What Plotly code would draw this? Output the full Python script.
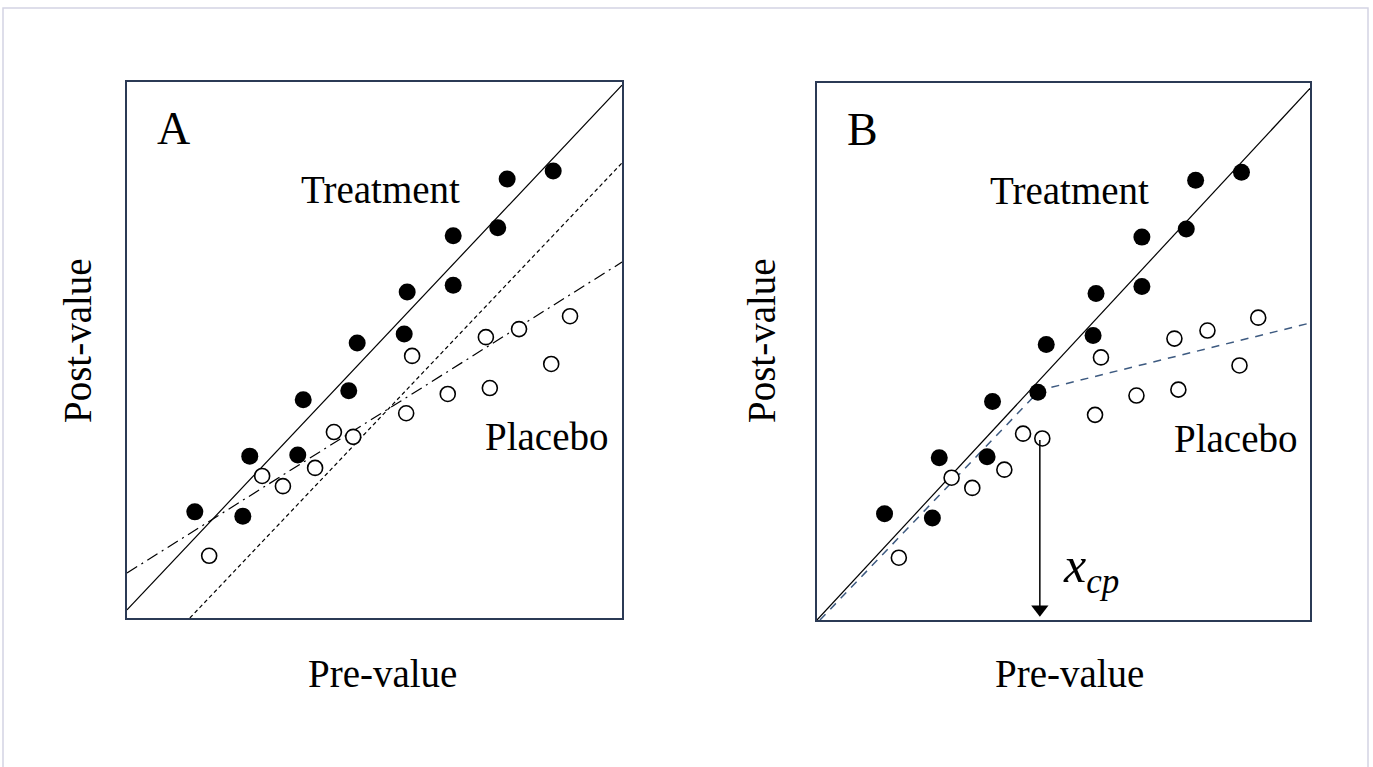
import plotly.graph_objects as go

W, H = 1373, 767

# ---- data (axis units 0..10) ----
treat_x = [1.37, 2.34, 2.48, 3.45, 3.56, 4.48, 4.65, 5.60, 5.66, 6.59, 6.59, 7.49, 7.68, 8.61]
treat_y = [1.98, 1.90, 3.02, 3.04, 4.07, 4.24, 5.13, 5.30, 6.08, 6.21, 7.13, 7.28, 8.19, 8.34]
plac_x = [1.66, 2.73, 3.15, 3.80, 4.18, 4.57, 5.64, 5.76, 6.48, 7.33, 7.25, 7.92, 8.57, 8.95]
plac_y = [1.16, 2.65, 2.46, 2.80, 3.47, 3.38, 3.82, 4.89, 4.18, 4.29, 5.24, 5.39, 4.74, 5.63]

# panel A lines
a_solid_x, a_solid_y = [0, 10], [0.15, 9.94]
a_dash_x, a_dash_y = [1.27, 10], [0, 8.49]
a_dashdot_x, a_dashdot_y = [0, 10], [0.84, 6.64]

# panel B lines
b_solid_x, b_solid_y = [0, 10], [0, 9.9]
b_seg_x, b_seg_y = [0.06, 4.52, 10], [0, 4.28, 5.53]
x_cp = 4.52
x_cp_top = 3.35

FONT = "Liberation Serif"

fig = go.Figure()

def px_x(p):
    return p / W

def px_y(p):
    return 1 - p / H

def add_points(xa, ya):
    fig.add_trace(go.Scatter(x=treat_x, y=treat_y, mode="markers", xaxis=xa, yaxis=ya,
                             marker=dict(size=17, color="black", line=dict(width=0)),
                             showlegend=False, hoverinfo="skip"))
    fig.add_trace(go.Scatter(x=plac_x, y=plac_y, mode="markers", xaxis=xa, yaxis=ya,
                             marker=dict(size=15, color="white", line=dict(width=1.6, color="black")),
                             showlegend=False, hoverinfo="skip"))

# Panel A lines
fig.add_trace(go.Scatter(x=a_solid_x, y=a_solid_y, mode="lines", xaxis="x", yaxis="y",
                         line=dict(color="black", width=1.2), showlegend=False, hoverinfo="skip"))
fig.add_trace(go.Scatter(x=a_dash_x, y=a_dash_y, mode="lines", xaxis="x", yaxis="y",
                         line=dict(color="black", width=1.2, dash="4px,3px"), showlegend=False, hoverinfo="skip"))
fig.add_trace(go.Scatter(x=a_dashdot_x, y=a_dashdot_y, mode="lines", xaxis="x", yaxis="y",
                         line=dict(color="black", width=1.2, dash="12px,5px,2px,5px"), showlegend=False, hoverinfo="skip"))
add_points("x", "y")

# Panel B lines
fig.add_trace(go.Scatter(x=b_solid_x, y=b_solid_y, mode="lines", xaxis="x2", yaxis="y2",
                         line=dict(color="black", width=1.2), showlegend=False, hoverinfo="skip"))
fig.add_trace(go.Scatter(x=b_seg_x, y=b_seg_y, mode="lines", xaxis="x2", yaxis="y2",
                         line=dict(color="#3d5a80", width=1.5, dash="8px,7px"), showlegend=False, hoverinfo="skip"))
add_points("x2", "y2")

# change-point arrow (shaft + head)
fig.add_trace(go.Scatter(x=[x_cp, x_cp], y=[x_cp_top, 0.25], mode="lines", xaxis="x2", yaxis="y2",
                         line=dict(color="black", width=1.5), showlegend=False, hoverinfo="skip"))
fig.add_trace(go.Scatter(x=[x_cp], y=[0.2], mode="markers", xaxis="x2", yaxis="y2",
                         marker=dict(symbol="triangle-down", size=15, color="black", line=dict(width=0)),
                         showlegend=False, hoverinfo="skip", cliponaxis=False))

ax_common = dict(range=[0, 10], showgrid=False, zeroline=False, showticklabels=False, ticks="",
                 showline=True, mirror=True, linecolor="#2b3a55", linewidth=2, fixedrange=True)

fig.update_layout(
    width=W, height=H,
    margin=dict(l=0, r=0, t=0, b=0),
    paper_bgcolor="white", plot_bgcolor="white",
    xaxis=dict(domain=[px_x(127), px_x(622)], anchor="y", **ax_common),
    yaxis=dict(domain=[px_y(618), px_y(82)], anchor="x", **ax_common),
    xaxis2=dict(domain=[px_x(817), px_x(1310)], anchor="y2", **ax_common),
    yaxis2=dict(domain=[px_y(620), px_y(83)], anchor="x2", **ax_common),
)

tfont = dict(family=FONT, size=39, color="black")
ann = []
for xr, yr, letter in [("x", "y", "A"), ("x2", "y2", "B")]:
    ann.append(dict(x=0.93, y=9.14, xref=xr, yref=yr, text=letter, showarrow=False,
                    xanchor="center", yanchor="middle",
                    font=dict(family=FONT, size=46, color="black")))
    ann.append(dict(x=5.13, y=7.99, xref=xr, yref=yr, text="Treatment", showarrow=False,
                    xanchor="center", yanchor="middle", font=tfont))
    ann.append(dict(x=8.48, y=3.38, xref=xr, yref=yr, text="Placebo", showarrow=False,
                    xanchor="center", yanchor="middle", font=tfont))

for cx in (382, 1069):
    ann.append(dict(x=px_x(cx), y=px_y(673), xref="paper", yref="paper", text="Pre-value",
                    xanchor="center", yanchor="middle", showarrow=False, font=tfont))
for cx in (78, 762):
    ann.append(dict(x=px_x(cx), y=px_y(341), xref="paper", yref="paper", text="Post-value",
                    xanchor="center", yanchor="middle", showarrow=False, textangle=-90, font=tfont))

ann.append(dict(x=4.95, y=0.95, xref="x2", yref="y2", xanchor="left", yanchor="middle",
                text="<i>x</i><sub><i>cp</i></sub>", showarrow=False,
                font=dict(family=FONT, size=50, color="black")))

fig.update_layout(annotations=ann)

# outer light frame
fig.add_shape(type="rect", xref="paper", yref="paper",
              x0=px_x(3), x1=px_x(1368), y0=px_y(780), y1=px_y(8),
              line=dict(color="#d4d4e4", width=1.5), fillcolor="rgba(0,0,0,0)", layer="below")

fig.write_html("out.html", config={"displayModeBar": False},
               post_script="document.body.style.margin='0';")
